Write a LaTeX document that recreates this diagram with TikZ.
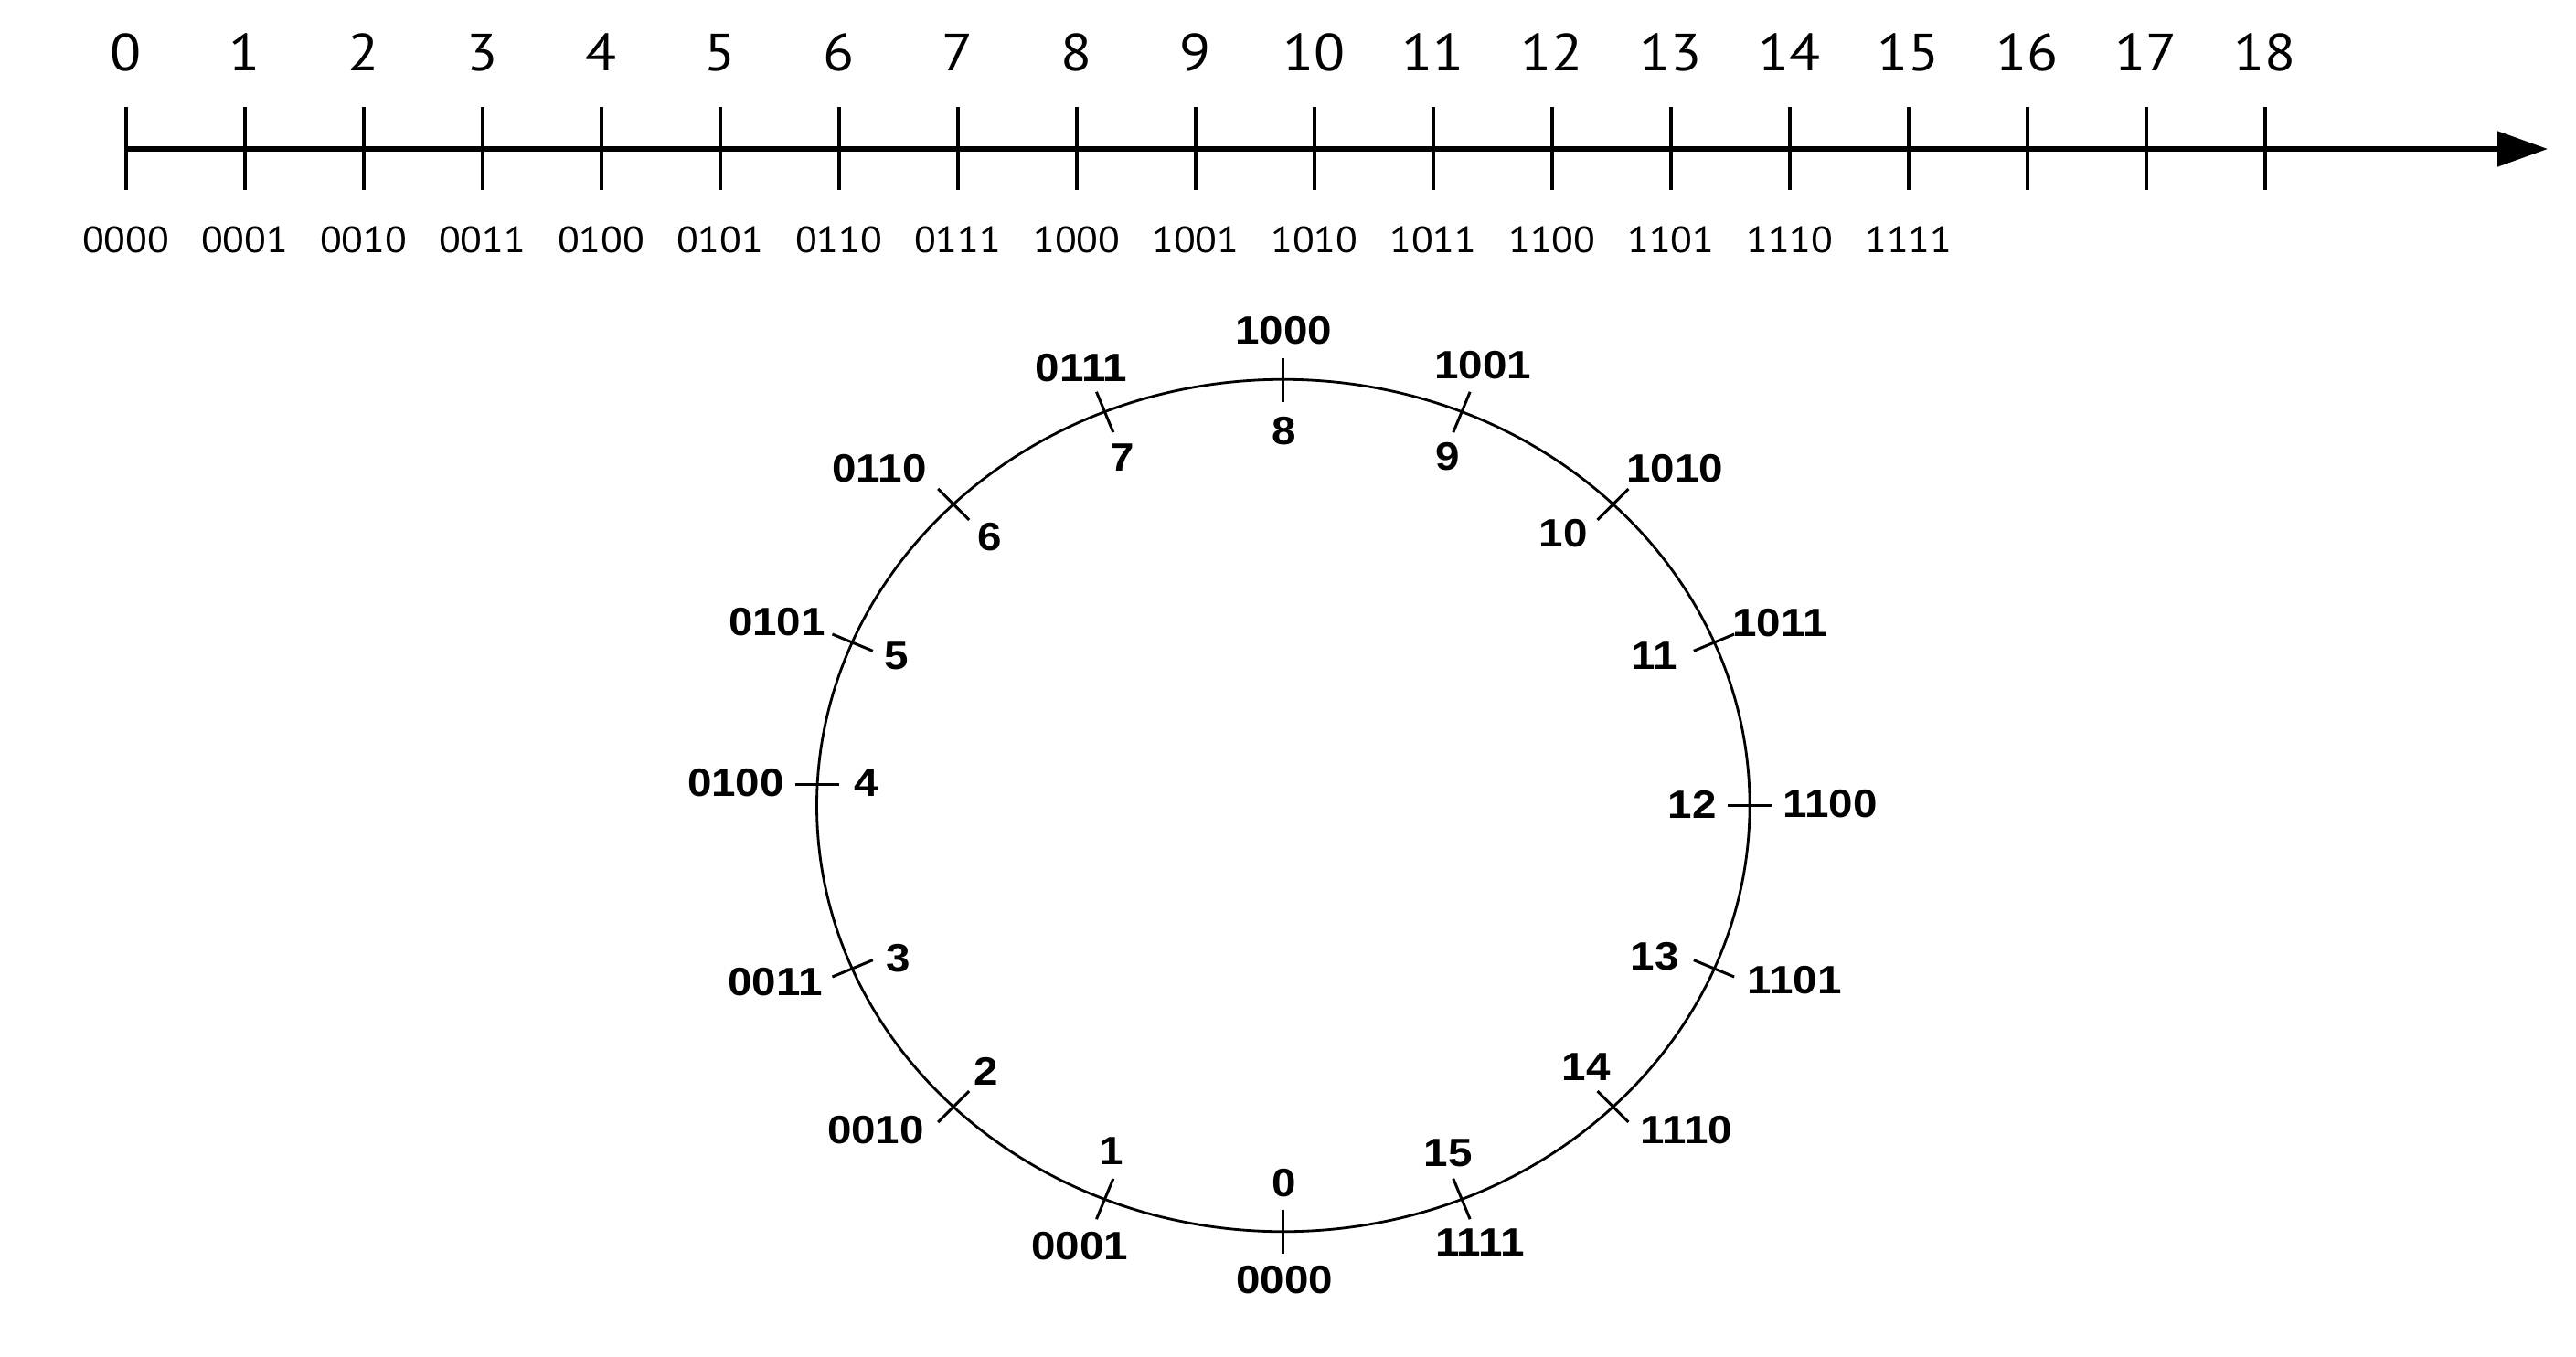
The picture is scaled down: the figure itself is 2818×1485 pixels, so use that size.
\documentclass[tikz,border=0pt]{standalone}
\usepackage{fontspec}
\setmainfont{Liberation Sans}
\newfontfamily\circfont{Liberation Sans}[FakeStretch=1.1]
\newfontfamily\axfont{PT Sans}[FakeStretch=1.09]
\usetikzlibrary{arrows.meta}
\begin{document}
\begin{tikzpicture}[x=0.01cm,y=-0.01cm,
  axisline/.style={line width=1.45pt},
  axtick/.style={line width=1.0pt},
  ring/.style={line width=0.8pt},
  ctick/.style={line width=0.85pt},
  toplab/.style={font=\axfont\fontsize{16.3}{18}\selectfont, anchor=base, inner sep=0pt},
  botlab/.style={font=\axfont\fontsize{11.4}{13}\selectfont, anchor=base, inner sep=0pt},
  clab/.style={font=\circfont\bfseries\fontsize{12.3}{14}\selectfont, inner sep=0pt}]
\useasboundingbox (0,0) rectangle (2818,1485);
% number line
\coordinate (axstart) at (137.8,163);
\coordinate (axend) at (2787,163);
\draw[axisline,-{Triangle[length=0.55cm,width=0.38cm]}] (axstart) -- (axend);
\foreach \k in {0,...,18} {
  \pgfmathsetmacro\tx{137.8+130*\k}
  \coordinate (ta\k) at (\tx,117);
  \coordinate (tb\k) at (\tx,208);
  \draw[axtick] (ta\k) -- (tb\k);
  \node[toplab] (top\k) at (\tx,78) {\k};
}
\foreach \k/\b in {0/0000,1/0001,2/0010,3/0011,4/0100,5/0101,6/0110,7/0111,8/1000,9/1001,10/1010,11/1011,12/1100,13/1101,14/1110,15/1111} {
  \node[botlab] (bot\k) at ({137.8+130*\k},277) {\b};
}
% circle
\coordinate (cc) at (1403.8,881.5);
\draw[ring] (cc) ellipse [x radius=5.1cm, y radius=4.66cm];
\foreach \k/\b/\bx/\by/\dx/\dy in {
  0/0000/1405/1401/1405/1295,
  1/0001/1181/1364/1216/1260,
  2/0010/958/1237/1079/1172,
  3/0011/848/1075/983/1049,
  4/0100/805/857/948/857,
  5/0101/850/681/981/718,
  6/0110/962/513/1083/588,
  7/0111/1183/403/1228/501,
  8/1000/1404/362/1405/472,
  9/1001/1622/400/1584/500,
  10/1010/1832/513/1710/584,
  11/1011/1947/682/1810/718,
  12/1100/2002/880/1851/880,
  13/1101/1963/1073/1810/1047,
  14/1110/1845/1237/1735/1168,
  15/1111/1619/1360/1584/1262} {
  \pgfmathsetmacro\a{-90-22.5*\k}
  \pgfmathsetmacro\px{1403.8+510*cos(\a)}
  \pgfmathsetmacro\py{\k==4 ? 858 : 881.5-466*sin(\a)}
  \coordinate (ci\k) at ({\px-24*cos(\a)},{\py+24*sin(\a)});
  \coordinate (co\k) at ({\px+24*cos(\a)},{\py-24*sin(\a)});
  \draw[ctick] (ci\k) -- (co\k);
  \node[clab] (bin\k) at (\bx,\by) {\b};
  \node[clab] (dec\k) at (\dx,\dy) {\k};
}
\end{tikzpicture}
\end{document}
